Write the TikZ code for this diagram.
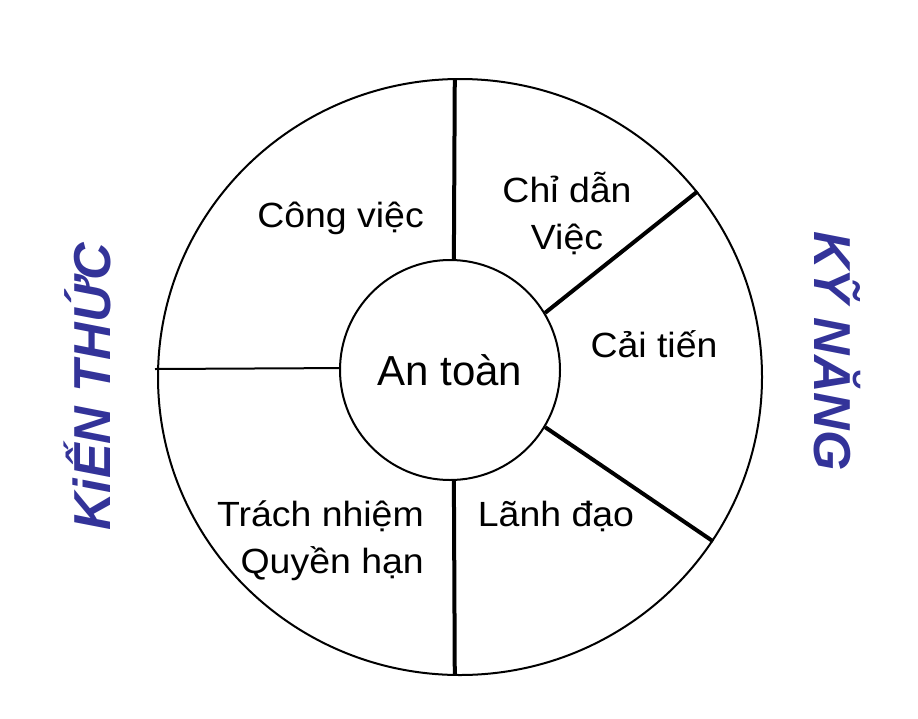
\documentclass[tikz,border=0pt]{standalone}
\usepackage{fontspec}
\setmainfont{Liberation Sans}
\newfontfamily\lblfont[FakeStretch=1.07]{Liberation Sans}
\usetikzlibrary{shapes.geometric}
\definecolor{kblue}{RGB}{51,51,153}
\begin{document}
\begin{tikzpicture}[x=1pt,y=-1pt,
  thinline/.style={line width=2pt},
  thickline/.style={line width=4pt},
  lbl/.style={inner sep=0pt, font=\lblfont\fontsize{35}{47}\selectfont},
  side/.style={inner sep=0pt, text=kblue, font=\fontsize{52}{60}\selectfont\bfseries\itshape}]
\useasboundingbox[fill=white] (0,0) rectangle (918,718);
\node[ellipse, draw, thinline, minimum width=604pt, minimum height=596pt, inner sep=0pt] (outer) at (460,377) {};
\node[circle, draw, thinline, minimum size=220pt, inner sep=0pt, font=\fontsize{42}{50}\selectfont] (inner) at (450,370) {An toàn};
\coordinate (hl) at (155,369);
\draw[thickline] (outer.91.2) -- (inner.88);
\draw[thickline] (inner.-88) -- (outer.-91.2);
\draw[thinline] (hl) -- (inner.179);
\draw[thickline] (inner.31) -- (outer.38);
\draw[thickline] (inner.-31) -- (outer.-33.4);
\node[lbl, anchor=base east] (cv) at (424,227) {Công việc};
\node[lbl, anchor=base, align=center] (cd) at (567,249) {Chỉ dẫn\\Việc};
\node[lbl, anchor=base] (ct) at (654,357) {Cải tiến};
\node[lbl, anchor=base east, align=right] (tn) at (424,573) {Trách nhiệm\\Quyền hạn};
\node[lbl, anchor=base] (ld) at (556,526) {Lãnh đạo};
\node[side, anchor=base, rotate=90] (kt) at (110,387) {KiẾN THỨC};
\node[side, anchor=base, rotate=-90] (kn) at (814,351) {KỸ NĂNG};
\end{tikzpicture}
\end{document}
